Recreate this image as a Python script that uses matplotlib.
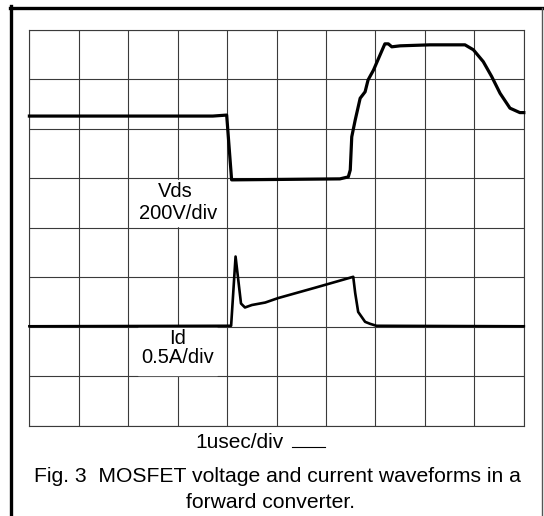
import matplotlib
matplotlib.use("Agg")
import matplotlib.pyplot as plt
from matplotlib.patches import Rectangle
from matplotlib.lines import Line2D

# Scope screen: 10 x 8 divisions, values read in divisions
vds_t = [0, 3.71, 3.99, 4.09, 6.28, 6.45, 6.49, 6.52, 6.59, 6.69, 6.79, 6.85, 6.96,
         7.09, 7.19, 7.26, 7.33, 7.50, 8.10, 8.81, 8.98, 9.18, 9.35, 9.52, 9.72, 9.92, 10.0]
vds_v = [6.26, 6.26, 6.28, 4.97, 4.99, 5.03, 5.17, 5.84, 6.18, 6.62, 6.75, 6.99, 7.19,
         7.49, 7.72, 7.72, 7.66, 7.68, 7.70, 7.70, 7.60, 7.36, 7.06, 6.72, 6.42, 6.33, 6.33]

id_t = [0, 4.08, 4.17, 4.28, 4.36, 4.50, 4.77, 5.03, 5.78, 6.55, 6.59, 6.65, 6.79, 6.89, 7.02, 10.0]
id_v = [2.01, 2.02, 3.42, 2.47, 2.39, 2.44, 2.49, 2.58, 2.79, 3.01, 2.68, 2.30, 2.10, 2.06, 2.02, 2.01]

vds_label = ["Vds", "200V/div"]
id_label = ["Id", "0.5A/div"]
time_label = "1usec/div"
caption = ["Fig. 3  MOSFET voltage and current waveforms in a", "forward converter."]

W, H = 544, 516
plt.rcParams["font.family"] = ["Liberation Sans", "DejaVu Sans"]

fig = plt.figure(figsize=(W / 100, H / 100), dpi=100)
ax = fig.add_axes([29.4 / W, (H - 425.7) / H, 494.4 / W, 395.7 / H])
ax.set_xlim(0, 10)
ax.set_ylim(0, 8)
ax.set_xticks(range(11))
ax.set_yticks(range(9))
ax.tick_params(length=0, labelbottom=False, labelleft=False)
ax.grid(True, color="#3a3a3a", linewidth=0.8)
for s in ax.spines.values():
    s.set_color("#3a3a3a")
    s.set_linewidth(0.8)

# white patches behind the labels hide the grid
ax.add_patch(Rectangle((2.2, 4.03), 1.6, 0.94, color="white", zorder=2))
ax.add_patch(Rectangle((2.2, 1.03), 1.6, 0.94, color="white", zorder=2))

ax.plot(vds_t, vds_v, color="black", linewidth=2.3, solid_joinstyle="round", zorder=3, clip_on=False)
ax.plot(id_t, id_v, color="black", linewidth=1.9, solid_joinstyle="round", zorder=3, clip_on=False)

ax.text(2.95, 4.73, vds_label[0], ha="center", va="center", fontsize=14.5, zorder=4)
ax.text(3.0, 4.30, vds_label[1], ha="center", va="center", fontsize=14.5, zorder=4)
ax.text(3.0, 1.77, id_label[0], ha="center", va="center", fontsize=14.5, zorder=4)
ax.text(3.0, 1.37, id_label[1], ha="center", va="center", fontsize=14.5, zorder=4)

fig.text(195 / W, 1 - 443 / H, time_label, ha="left", va="center", fontsize=15)
fig.add_artist(Line2D([292 / W, 325 / W], [1 - 447 / H, 1 - 447 / H], color="black", linewidth=0.8))
fig.text(277 / W, 1 - 476 / H, caption[0], ha="center", va="center", fontsize=15.2)
fig.text(271 / W, 1 - 503 / H, caption[1], ha="center", va="center", fontsize=15.2)

# outer frame: heavy left/top, light right
fig.add_artist(Line2D([11 / W, 11 / W], [0, 1 - 6 / H], color="black", linewidth=2.4))
fig.add_artist(Line2D([10 / W, 542 / W], [1 - 7.5 / H, 1 - 7.5 / H], color="black", linewidth=2.4))
fig.add_artist(Line2D([542 / W, 542 / W], [0, 1 - 7.5 / H], color="#555555", linewidth=1.0))

fig.savefig("out.png", dpi=100)
